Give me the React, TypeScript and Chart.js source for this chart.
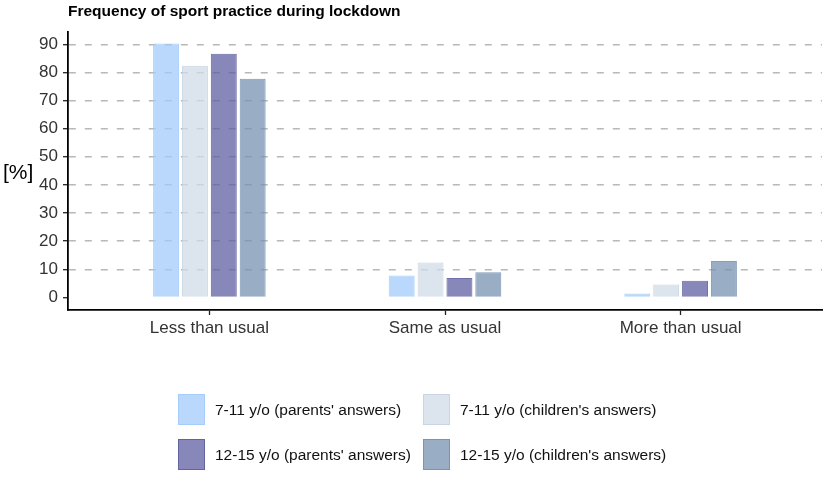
import { useEffect, useRef } from "react";
import { Chart, registerables } from "chart.js";

Chart.register(...registerables);

const categories = ["Less than usual", "Same as usual", "More than usual"];
const seriesNames = [
  "7-11 y/o (parents' answers)",
  "7-11 y/o (children's answers)",
  "12-15 y/o (parents' answers)",
  "12-15 y/o (children's answers)",
];
const parents711 = [90.3, 7.8, 1.4];
const children711 = [82.4, 12.4, 4.6];
const parents1215 = [86.7, 6.9, 5.9];
const children1215 = [77.8, 8.9, 12.9];
const yTicks = [0, 10, 20, 30, 40, 50, 60, 70, 80, 90];

const fills = [
  "rgba(163,203,251,0.75)",
  "rgba(208,219,231,0.75)",
  "rgba(95,95,162,0.75)",
  "rgba(119,146,178,0.75)",
];
const borders = [
  "rgba(163,203,251,0.9)",
  "rgba(200,212,226,0.9)",
  "rgba(95,95,162,0.9)",
  "rgba(119,146,178,0.9)",
];

const FONT = "Liberation Sans, Arial, sans-serif";

const yTitlePlugin = {
  id: "yTitleFlat",
  afterDraw(chart: any) {
    const { ctx, chartArea } = chart;
    ctx.save();
    ctx.fillStyle = "#000";
    ctx.font = `21px ${FONT}`;
    ctx.textAlign = "left";
    ctx.textBaseline = "middle";
    ctx.fillText("[%]", 3, (chartArea.top + chartArea.bottom) / 2 + 2);
    ctx.restore();
  },
};

const legendPlugin = {
  id: "gridLegend",
  afterDraw(chart: any) {
    const { ctx } = chart;
    const colX = [178, 423];
    const rowY = [394, 439];
    const bw = 27;
    const bh = 31;
    ctx.save();
    ctx.font = `15.5px ${FONT}`;
    ctx.textBaseline = "middle";
    ctx.textAlign = "left";
    chart.data.datasets.forEach((ds: any, i: number) => {
      const x = colX[i % 2];
      const y = rowY[Math.floor(i / 2)];
      ctx.fillStyle = ds.backgroundColor;
      ctx.fillRect(x, y, bw, bh);
      ctx.strokeStyle = ds.borderColor;
      ctx.lineWidth = 1;
      ctx.strokeRect(x + 0.5, y + 0.5, bw - 1, bh - 1);
      ctx.fillStyle = "#111";
      ctx.fillText(ds.label, x + bw + 10, y + bh / 2 + 1);
    });
    ctx.restore();
  },
};

export default function App() {
  const ref = useRef<HTMLCanvasElement | null>(null);

  useEffect(() => {
    if (!ref.current) return;
    const series = [parents711, children711, parents1215, children1215];
    const chart = new Chart(ref.current, {
      type: "bar",
      data: {
        labels: categories,
        datasets: series.map((vals, i) => ({
          label: seriesNames[i],
          data: vals,
          backgroundColor: fills[i],
          borderColor: borders[i],
          borderWidth: 1,
          categoryPercentage: 0.49,
          barPercentage: 0.9,
        })),
      },
      options: {
        responsive: false,
        animation: false,
        layout: { padding: { left: 0, right: 7, top: 0, bottom: 139 } },
        plugins: {
          legend: { display: false },
          tooltip: { enabled: false },
          title: {
            display: true,
            text: "Frequency of sport practice during lockdown",
            align: "start",
            fullSize: false,
            color: "#000",
            font: { family: FONT, size: 15.5, weight: "bold", lineHeight: 1.2 },
            padding: { top: 2.6, bottom: 10.8 },
          },
        },
        scales: {
          x: {
            type: "category",
            offset: true,
            afterUpdate: (scale: any) => {
              scale._startValue = -0.6;
              scale._valueRange = categories.length - 1 + 1.2;
            },
            afterFit: (scale: any) => {
              scale.height = 30;
            },
            grid: {
              offset: false,
              drawOnChartArea: false,
              drawTicks: true,
              tickLength: 5,
              tickColor: "#222",
              tickWidth: 1.3,
            },
            border: { display: true, color: "#000", width: 1.8 },
            ticks: {
              color: "#333",
              padding: 3,
              font: { family: FONT, size: 17 },
              maxRotation: 0,
            },
          },
          y: {
            type: "linear",
            min: -4.5,
            max: 94.4,
            afterBuildTicks: (scale: any) => {
              scale.ticks = yTicks.map((v) => ({ value: v }));
            },
            afterFit: (scale: any) => {
              scale.width = 68;
            },
            grid: {
              drawOnChartArea: true,
              drawTicks: true,
              tickLength: 5,
              lineWidth: 1.4,
              color: (c: any) =>
                c.tick && c.tick.value === 0 ? "rgba(0,0,0,0)" : "#b8b8b8",
              tickColor: "#222",
              tickWidth: 1.3,
            },
            border: { display: true, color: "#000", width: 1.8, dash: [7, 9] },
            ticks: {
              color: "#333",
              padding: 5,
              font: { family: FONT, size: 17 },
            },
          },
        },
      },
      plugins: [yTitlePlugin, legendPlugin],
    } as any);
    return () => chart.destroy();
  }, []);

  return (
    <div style={{ position: "absolute", left: 0, top: 0, width: 829, height: 479, background: "#fff" }}>
      <canvas ref={ref} width={829} height={479} style={{ width: 829, height: 479, display: "block" }} />
    </div>
  );
}
